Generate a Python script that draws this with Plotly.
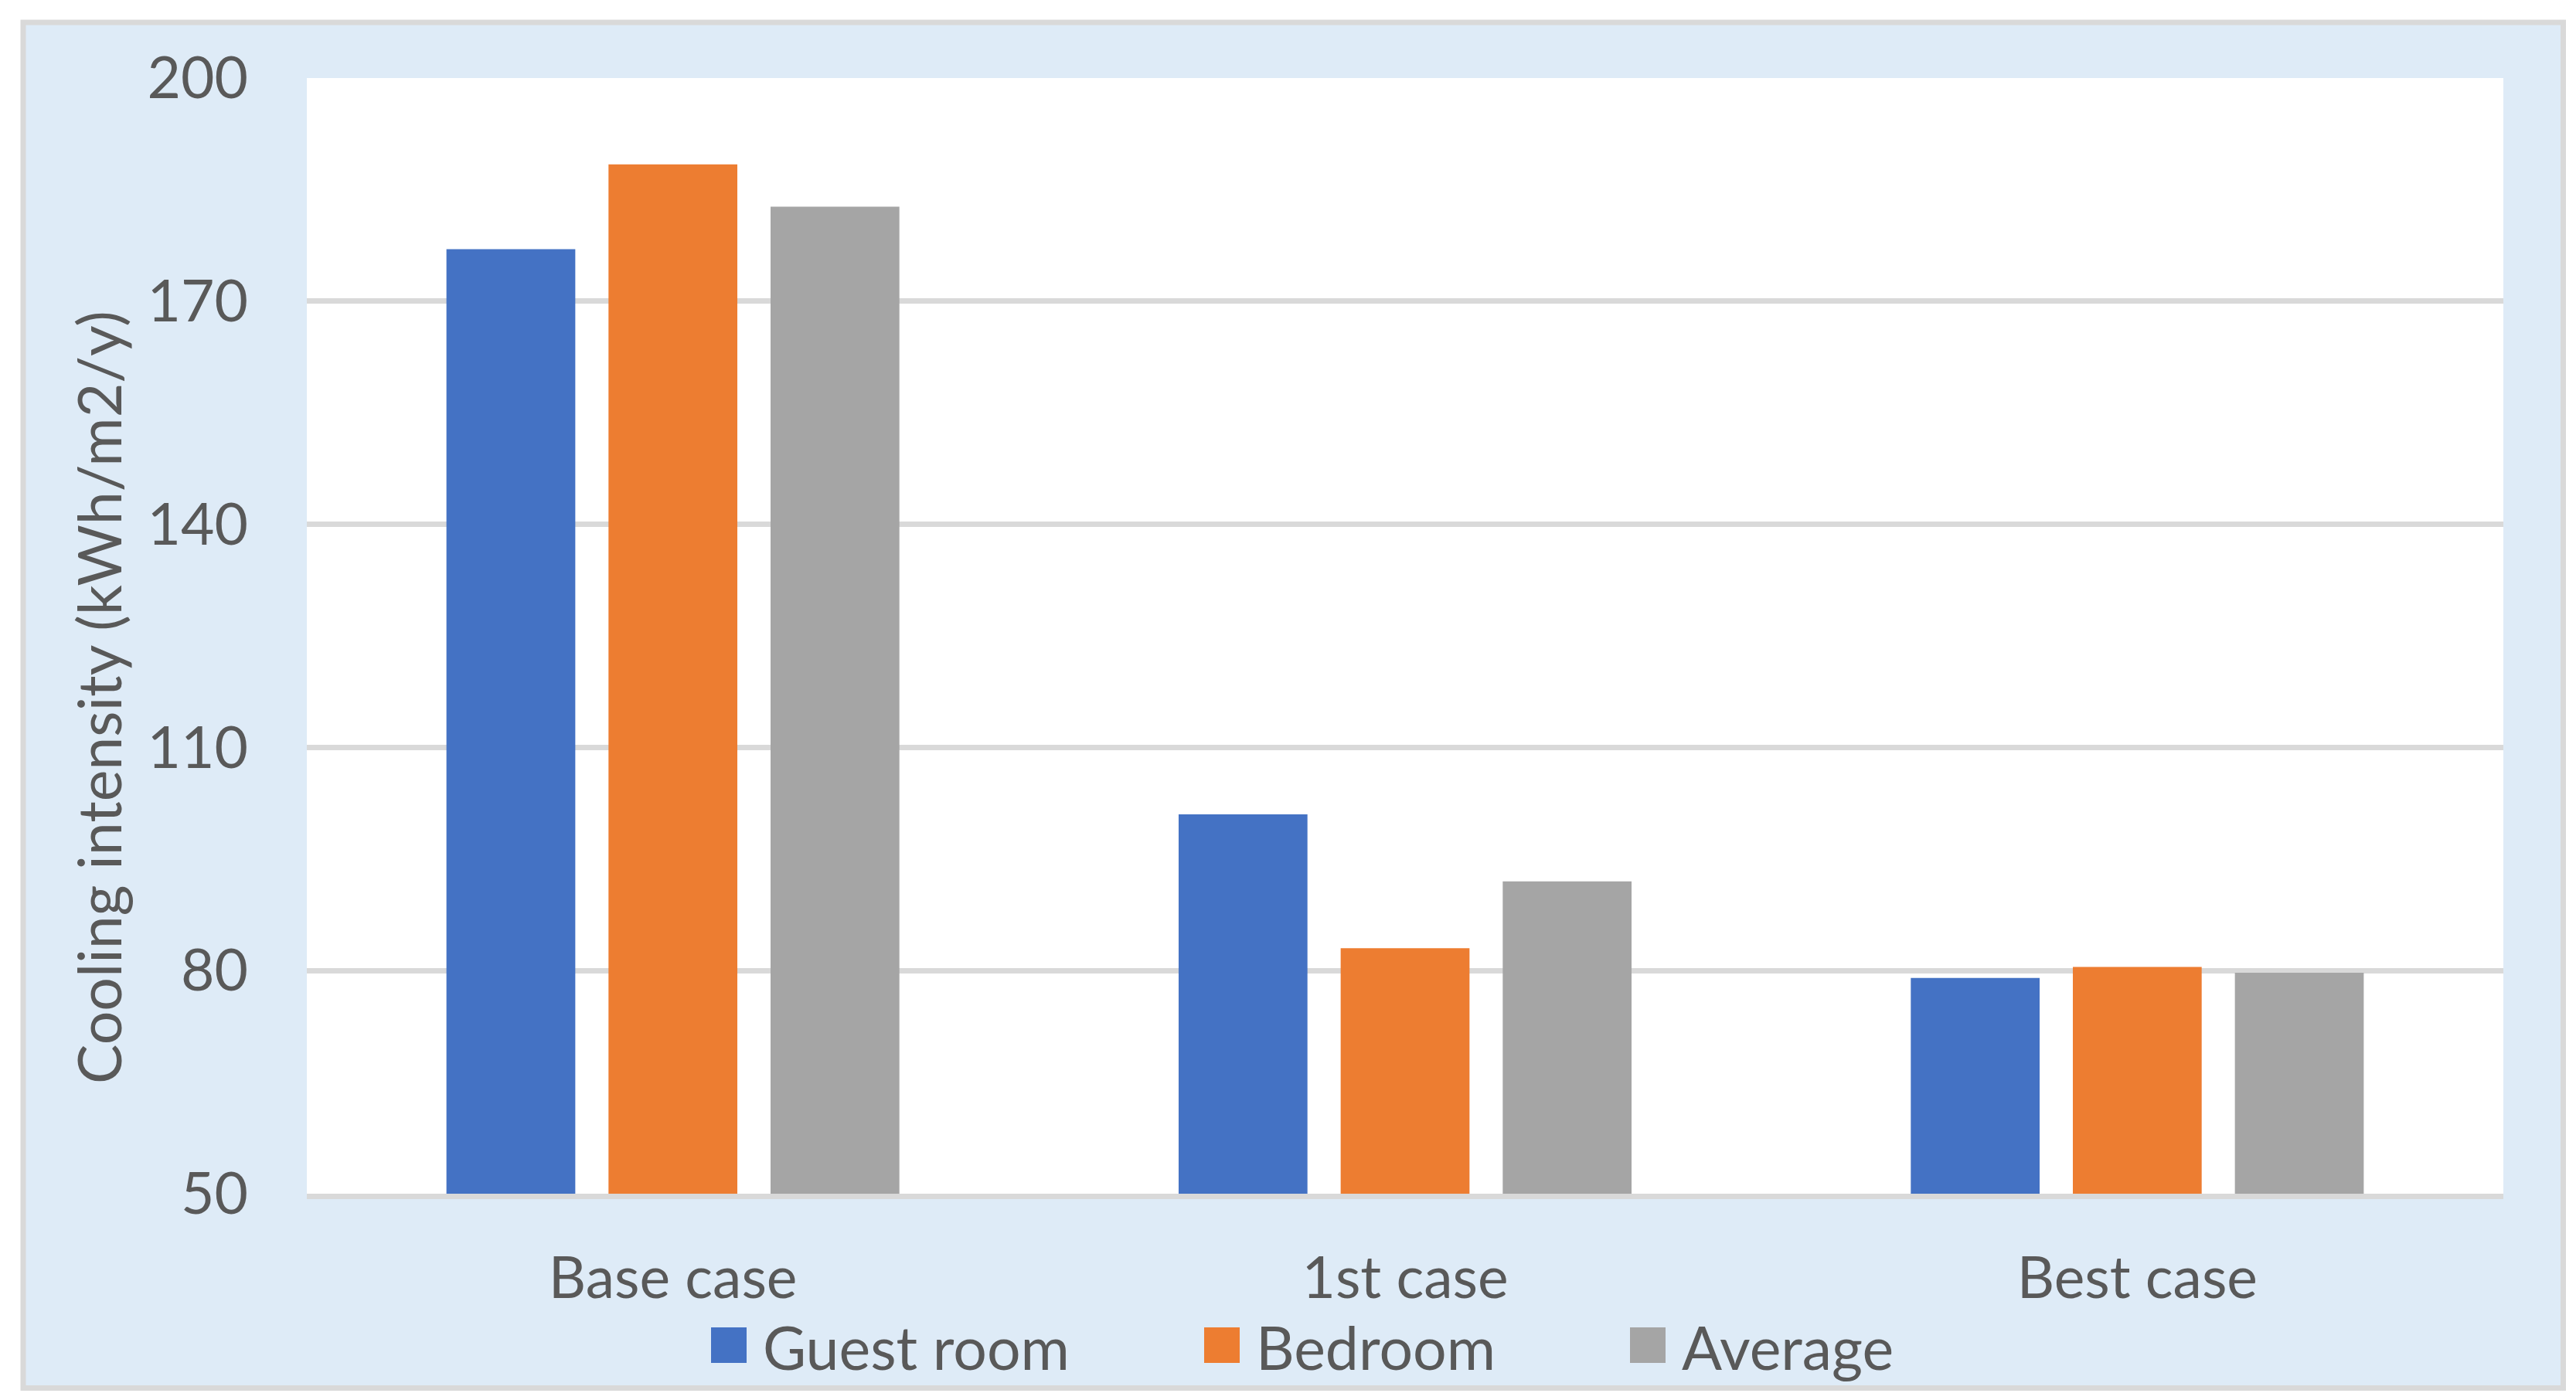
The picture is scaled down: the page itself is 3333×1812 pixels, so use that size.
import plotly.graph_objects as go

# ---- data ----
categories = ["Base case", "1st case", "Best case"]
series_names = ["Guest room", "Bedroom", "Average"]
guest_room = [177.0, 101.0, 79.0]
bedroom = [188.4, 83.0, 80.5]
average = [182.7, 92.0, 79.7]
y_ticks = [50, 80, 110, 140, 170, 200]
y_title = "Cooling intensity (kWh/m2/y)"

colors = ["#4472C4", "#ED7D31", "#A5A5A5"]
series_values = [guest_room, bedroom, average]

# ---- layout geometry (pixels) ----
W, H = 3333, 1812
ML, MR, MT, MB = 389, 102, 93, 275
PW, PH = W - ML - MR, H - MT - MB

def px2x(px):
    return (px - ML) / PW

def px2y(py):
    return (H - MB - py) / PH

FONT = "Lato"
TXT = "#595959"
FS = 75

fig = go.Figure()
for name, vals, col in zip(series_names, series_values, colors):
    fig.add_trace(go.Bar(x=categories, y=vals, name=name,
                         marker=dict(color=col, line=dict(width=0)),
                         showlegend=False))

shapes = [
    # chart area (light blue with grey border)
    dict(type="rect", xref="paper", yref="paper", layer="below",
         x0=px2x(22), x1=px2x(3308.5), y0=px2y(1788.5), y1=px2y(21),
         fillcolor="#DEEBF7", line=dict(color="#D9D9D9", width=7)),
    # plot area (white)
    dict(type="rect", xref="paper", yref="paper", layer="below",
         x0=0, x1=1, y0=0, y1=1, fillcolor="white", line=dict(width=0)),
]

annotations = [
    dict(text=y_title, xref="paper", yref="paper", x=px2x(119), y=px2y(895),
         textangle=-90, showarrow=False, xanchor="center", yanchor="middle",
         font=dict(family=FONT, size=77, color=TXT)),
]

# custom legend (large square swatches like the original)
leg_sq_x = [912, 1550, 2101]
sq = 46
leg_cy = 1733
for name, col, x0 in zip(series_names, colors, leg_sq_x):
    shapes.append(dict(type="rect", xref="paper", yref="paper", layer="above",
                       x0=px2x(x0), x1=px2x(x0 + sq),
                       y0=px2y(leg_cy + sq / 2), y1=px2y(leg_cy - sq / 2),
                       fillcolor=col, line=dict(width=0)))
    annotations.append(dict(text=name, xref="paper", yref="paper",
                            x=px2x(x0 + sq + 19), y=px2y(leg_cy + 2),
                            xanchor="left", yanchor="middle", showarrow=False,
                            font=dict(family=FONT, size=77, color=TXT)))

fig.update_layout(
    width=W, height=H,
    margin=dict(l=ML, r=MR, t=MT, b=MB, pad=0),
    paper_bgcolor="white", plot_bgcolor="white",
    barmode="group", bargap=0.336, bargroupgap=0.205,
    font=dict(family=FONT, size=FS, color=TXT),
    shapes=shapes, annotations=annotations,
    showlegend=False,
    xaxis=dict(showgrid=False, showline=True, linecolor="#D9D9D9", linewidth=7,
               ticks="outside", ticklen=38, tickcolor="rgba(0,0,0,0)",
               tickfont=dict(family=FONT, size=FS, color=TXT), zeroline=False),
    yaxis=dict(range=[50, 200], tickvals=y_ticks, showgrid=True,
               gridcolor="#D9D9D9", gridwidth=7, showline=False, zeroline=False,
               ticks="outside", ticklen=60, tickcolor="rgba(0,0,0,0)",
               tickfont=dict(family=FONT, size=FS, color=TXT)),
)

fig.write_html("out.html")
